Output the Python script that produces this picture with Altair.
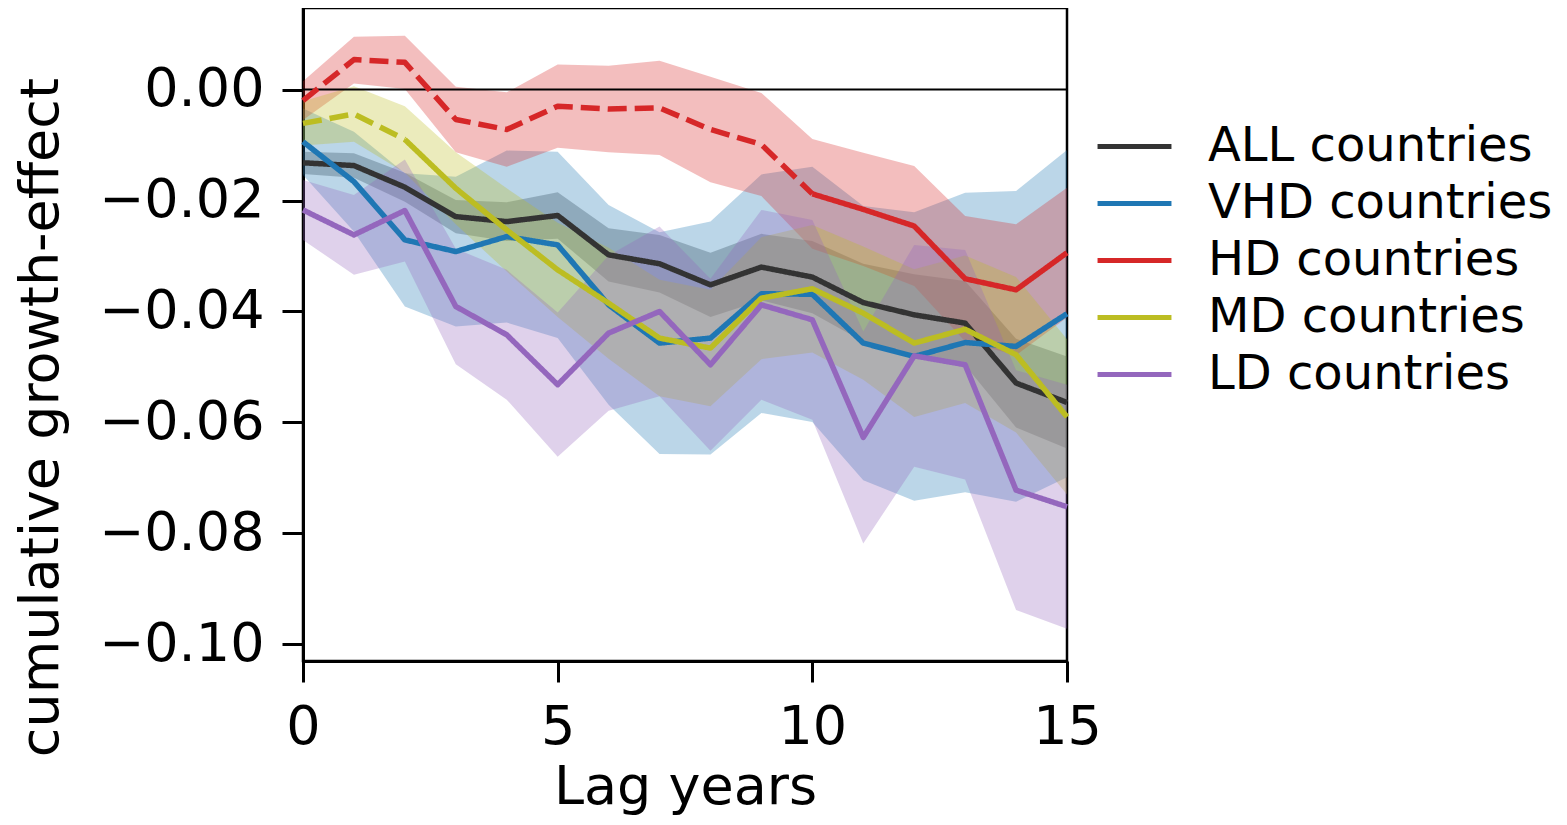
import altair as alt
import pandas as pd

# ---------------- data ----------------
lags = list(range(16))

series_names = ["ALL countries", "VHD countries", "HD countries", "MD countries", "LD countries"]
series_colors = ["#333333", "#1f77b4", "#d62728", "#bcbd22", "#9467bd"]
# lag up to which the line is drawn dashed (0 = fully solid)
dashed_until = [0, 0, 10, 2, 0]

all_mean = [-0.0132, -0.0137, -0.0176, -0.0229, -0.0238, -0.0227, -0.0298, -0.0314,
            -0.0352, -0.0320, -0.0338, -0.0384, -0.0406, -0.0421, -0.0529, -0.0564]
all_hi = [-0.0112, -0.0115, -0.0150, -0.0199, -0.0203, -0.0185, -0.0250, -0.0262,
          -0.0294, -0.0260, -0.0273, -0.0314, -0.0333, -0.0345, -0.0449, -0.0481]
all_lo = [-0.0152, -0.0159, -0.0202, -0.0259, -0.0273, -0.0269, -0.0346, -0.0366,
          -0.0410, -0.0380, -0.0403, -0.0454, -0.0479, -0.0497, -0.0609, -0.0647]

vhd_mean = [-0.0094, -0.0166, -0.0271, -0.0292, -0.0265, -0.0280, -0.0388, -0.0457,
            -0.0448, -0.0368, -0.0369, -0.0457, -0.0481, -0.0456, -0.0463, -0.0404]
vhd_hi = [-0.0034, -0.0076, -0.0151, -0.0157, -0.0110, -0.0112, -0.0208, -0.0257,
          -0.0238, -0.0153, -0.0139, -0.0210, -0.0221, -0.0186, -0.0183, -0.0109]
vhd_lo = [-0.0154, -0.0256, -0.0391, -0.0427, -0.0420, -0.0448, -0.0568, -0.0657,
          -0.0658, -0.0583, -0.0599, -0.0704, -0.0741, -0.0726, -0.0743, -0.0699]

hd_mean = [-0.0020, 0.0054, 0.0049, -0.0054, -0.0072, -0.0030, -0.0035, -0.0033,
           -0.0072, -0.0099, -0.0188, -0.0216, -0.0246, -0.0341, -0.0361, -0.0294]
hd_hi = [0.0015, 0.0095, 0.0097, 0.0005, -0.0005, 0.0045, 0.0043, 0.0052,
         0.0023, -0.0006, -0.0089, -0.0114, -0.0138, -0.0228, -0.0243, -0.0177]
hd_lo = [-0.0055, 0.0011, 0.0001, -0.0113, -0.0139, -0.0105, -0.0113, -0.0118,
         -0.0167, -0.0192, -0.0287, -0.0318, -0.0354, -0.0454, -0.0479, -0.0411]

md_mean = [-0.0061, -0.0044, -0.0090, -0.0178, -0.0253, -0.0325, -0.0385, -0.0448,
           -0.0466, -0.0376, -0.0359, -0.0403, -0.0457, -0.0432, -0.0478, -0.0590]
md_hi = [-0.0021, 0.0006, -0.0030, -0.0113, -0.0178, -0.0240, -0.0285, -0.0343,
         -0.0361, -0.0266, -0.0244, -0.0283, -0.0324, -0.0299, -0.0338, -0.0450]
md_lo = [-0.0101, -0.0094, -0.0150, -0.0243, -0.0328, -0.0410, -0.0485, -0.0553,
         -0.0571, -0.0486, -0.0474, -0.0523, -0.0590, -0.0565, -0.0618, -0.0730]

ld_mean = [-0.0217, -0.0262, -0.0218, -0.0391, -0.0442, -0.0532, -0.0439, -0.0400,
           -0.0496, -0.0388, -0.0415, -0.0627, -0.0480, -0.0496, -0.0722, -0.0752]
ld_hi = [-0.0163, -0.0190, -0.0126, -0.0287, -0.0325, -0.0402, -0.0299, -0.0247,
         -0.0341, -0.0217, -0.0235, -0.0436, -0.0280, -0.0289, -0.0506, -0.0532]
ld_lo = [-0.0271, -0.0334, -0.0310, -0.0495, -0.0559, -0.0662, -0.0579, -0.0553,
         -0.0651, -0.0559, -0.0595, -0.0818, -0.0680, -0.0703, -0.0938, -0.0972]

x_ticks = [0, 5, 10, 15]
y_ticks = [-0.10, -0.08, -0.06, -0.04, -0.02, 0.00]

means = [all_mean, vhd_mean, hd_mean, md_mean, ld_mean]
his = [all_hi, vhd_hi, hd_hi, md_hi, ld_hi]
los = [all_lo, vhd_lo, hd_lo, md_lo, ld_lo]

# ---------------- build tables ----------------
band_rows, line_rows = [], []
for name, m, hi, lo, du in zip(series_names, means, his, los, dashed_until):
    for i, lag in enumerate(lags):
        band_rows.append({"lag": lag, "series": name, "lo": lo[i], "hi": hi[i]})
        if du > 0 and lag <= du:
            line_rows.append({"lag": lag, "value": m[i], "series": name,
                              "seg": name + "_d", "style": "dashed"})
        if lag >= du:
            line_rows.append({"lag": lag, "value": m[i], "series": name,
                              "seg": name + "_s", "style": "solid"})
band_df = pd.DataFrame(band_rows)
line_df = pd.DataFrame(line_rows)

FONT = "DejaVu Sans"
x_scale = alt.Scale(domain=[0, 15], nice=False, zero=False)
y_scale = alt.Scale(domain=[-0.103, 0.0147], nice=False, zero=False)
color_scale = alt.Scale(domain=series_names, range=series_colors)
dash_scale = alt.Scale(domain=["solid", "dashed"], range=[[1, 0], [19, 8]])

x_axis = alt.Axis(values=x_ticks, format="d", title="Lag years", grid=False,
                  labelFontSize=54, titleFontSize=54, labelFont=FONT, titleFont=FONT,
                  titleFontWeight="normal", tickSize=21, tickWidth=3, domainWidth=3,
                  labelPadding=18, titlePadding=6, domainColor="black",
                  tickColor="black", labelColor="black", titleColor="black",
                  labelFlush=False)
y_axis = alt.Axis(values=y_ticks, format=".2f", title="cumulative growth-effect",
                  grid=False, labelFontSize=54, titleFontSize=54, labelFont=FONT,
                  titleFont=FONT, titleFontWeight="normal", tickSize=21, tickWidth=3,
                  domainWidth=3, labelPadding=18, domainColor="black",
                  tickColor="black", labelColor="black", titleColor="black",
                  titleY=409, titleX=-235, titleBaseline="bottom", labelFlush=False)

legend = alt.Legend(title=None, orient="none", legendX=805, legendY=112,
                    symbolType="M-1.54,0H1.54", symbolSize=2304,
                    symbolStrokeWidth=5, labelFontSize=48, labelFont=FONT,
                    labelColor="black", labelOffset=47, rowPadding=6, padding=0,
                    labelLimit=600)

layers = []
for name, c in zip(series_names, series_colors):
    layers.append(
        alt.Chart(band_df[band_df.series == name]).mark_area(
            opacity=0.3, color=c, interpolate="linear").encode(
            x=alt.X("lag:Q", scale=x_scale, axis=x_axis),
            y=alt.Y("lo:Q", scale=y_scale, axis=y_axis),
            y2="hi:Q",
        )
    )

zero_rule = alt.Chart(pd.DataFrame({"y": [0.0]})).mark_rule(
    color="black", strokeWidth=2).encode(y=alt.Y("y:Q", scale=y_scale))
layers.append(zero_rule)

for name in series_names:
    layers.append(
        alt.Chart(line_df[line_df.series == name]).mark_line(
            strokeWidth=5.5, strokeJoin="round", strokeCap="butt").encode(
            x=alt.X("lag:Q", scale=x_scale),
            y=alt.Y("value:Q", scale=y_scale),
            color=alt.Color("series:N", scale=color_scale, legend=legend),
            strokeDash=alt.StrokeDash("style:N", scale=dash_scale, legend=None),
            detail="seg:N",
            order="lag:Q",
        )
    )

chart = alt.layer(*layers).properties(
    width=764, height=653,
    autosize=alt.AutoSizeParams(type="none"),
    padding={"left": 295, "top": 0, "right": 492, "bottom": 156},
    background="white",
).configure_view(stroke="#000000", strokeWidth=2.5)

chart.save("out.html", embed_options={"renderer": "svg", "actions": False})
